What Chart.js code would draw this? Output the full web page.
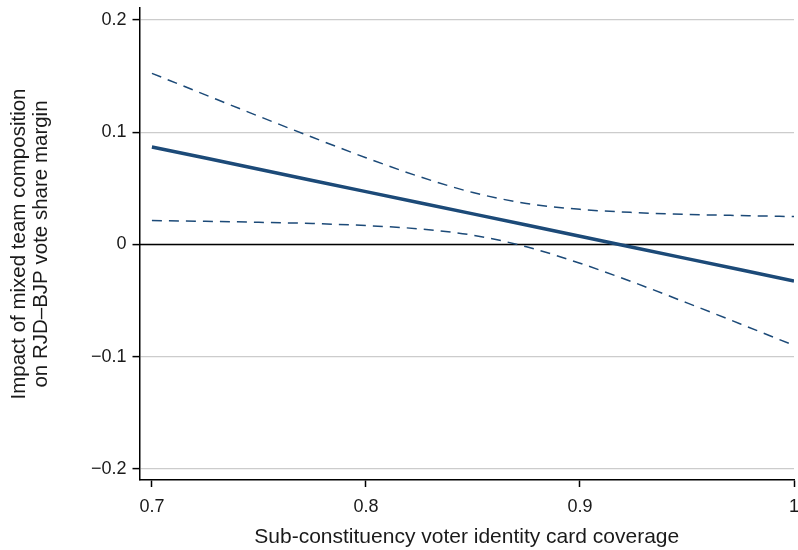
<!DOCTYPE html>
<html>
<head>
<meta charset="utf-8">
<script src="https://cdn.jsdelivr.net/npm/chart.js@4.4.1/dist/chart.umd.min.js"></script>
<style>
    body { margin: 0; background: #fff; }
    #wrap { width: 798px; height: 550px; }
</style>
</head>
<body>
<div id="wrap"><canvas id="marginChart" width="798" height="550"></canvas></div>
<script>
// Values
const coverage = [0.700, 0.725, 0.750, 0.775, 0.800, 0.825, 0.850, 0.875, 0.900, 0.925, 0.950, 0.975, 1.000];
const estimate = [0.0869, 0.0770, 0.0670, 0.0571, 0.0471, 0.0372, 0.0273, 0.0173, 0.0073, -0.0026, -0.0126, -0.0225, -0.0325];
const upperCI = [0.1525, 0.1333, 0.1142, 0.0955, 0.0773, 0.0605, 0.0463, 0.0366, 0.0313, 0.0285, 0.0268, 0.0258, 0.0249];
const lowerCI = [0.0213, 0.0207, 0.0198, 0.0187, 0.0169, 0.0139, 0.0083, -0.0020, -0.0167, -0.0337, -0.0520, -0.0708, -0.0899];
const zeroLine = [0, 0];
const xTicks = [0.7, 0.8, 0.9, 1];
const yTicks = [-0.2, -0.1, 0, 0.1, 0.2];

const X_MIN = 0.6942, X_MAX = 1.0;
const Y_MIN = -0.2098, Y_MAX = 0.2107;

const navy = '#1c4a78';
const textColor = '#1a1a1a';
const fontFamily = 'Liberation Sans, Arial, sans-serif';

function toPoints(xs, ys) {
    return xs.map((x, i) => ({ x: x, y: ys[i] }));
}

function fmt(v) {
    return String(v).replace('-', '\u2212');
}

const ctx = document.getElementById('marginChart').getContext('2d');

new Chart(ctx, {
    type: 'line',
    data: {
        datasets: [
            {
                data: toPoints(coverage, estimate),
                borderColor: navy,
                borderWidth: 3.5,
                pointRadius: 0,
                order: 1
            },
            {
                data: toPoints(coverage, upperCI),
                borderColor: navy,
                borderWidth: 1.5,
                borderDash: [10, 7],
                pointRadius: 0,
                cubicInterpolationMode: 'monotone',
                order: 2
            },
            {
                data: toPoints(coverage, lowerCI),
                borderColor: navy,
                borderWidth: 1.5,
                borderDash: [10, 7],
                pointRadius: 0,
                cubicInterpolationMode: 'monotone',
                order: 3
            },
            {
                // reference line at zero
                data: toPoints([X_MIN, X_MAX], zeroLine),
                borderColor: '#000',
                borderWidth: 1.5,
                pointRadius: 0,
                order: 10
            }
        ]
    },
    options: {
        responsive: false,
        animation: false,
        layout: {
            padding: { top: 8, right: 4, left: 0, bottom: 0 }
        },
        plugins: {
            legend: { display: false },
            tooltip: { enabled: false }
        },
        scales: {
            x: {
                type: 'linear',
                min: X_MIN,
                max: X_MAX,
                afterBuildTicks: axis => { axis.ticks = xTicks.map(v => ({ value: v })); },
                afterFit: scale => {
                    scale.height = 70;
                    scale.paddingLeft = 0;
                    scale.paddingRight = 0;
                },
                grid: {
                    drawOnChartArea: false,
                    drawTicks: true,
                    tickLength: 7,
                    tickColor: '#000',
                    tickWidth: 1.5
                },
                border: { color: '#000', width: 1.5 },
                ticks: {
                    color: textColor,
                    padding: 9,
                    maxRotation: 0,
                    font: { family: fontFamily, size: 18 },
                    callback: v => fmt(v)
                },
                title: {
                    display: true,
                    text: 'Sub-constituency voter identity card coverage',
                    color: textColor,
                    padding: { top: 6, bottom: 0 },
                    font: { family: fontFamily, size: 21 }
                }
            },
            y: {
                type: 'linear',
                min: Y_MIN,
                max: Y_MAX,
                afterBuildTicks: axis => { axis.ticks = yTicks.map(v => ({ value: v })); },
                afterFit: scale => {
                    scale.width = 139.5;
                    scale.paddingTop = 0;
                    scale.paddingBottom = 0;
                },
                grid: {
                    color: '#cccccc',
                    lineWidth: 1.2,
                    drawTicks: true,
                    tickLength: 7,
                    tickColor: '#000',
                    tickWidth: 1.5
                },
                border: { color: '#000', width: 1.5 },
                ticks: {
                    color: textColor,
                    padding: 6,
                    font: { family: fontFamily, size: 18 },
                    callback: v => fmt(v)
                },
                title: {
                    display: true,
                    text: ['Impact of mixed team composition', 'on RJD\u2013BJP vote share margin'],
                    color: textColor,
                    padding: { top: 8, bottom: 0 },
                    font: { family: fontFamily, size: 20.5, lineHeight: 1.1 }
                }
            }
        }
    }
});
</script>
</body>
</html>
